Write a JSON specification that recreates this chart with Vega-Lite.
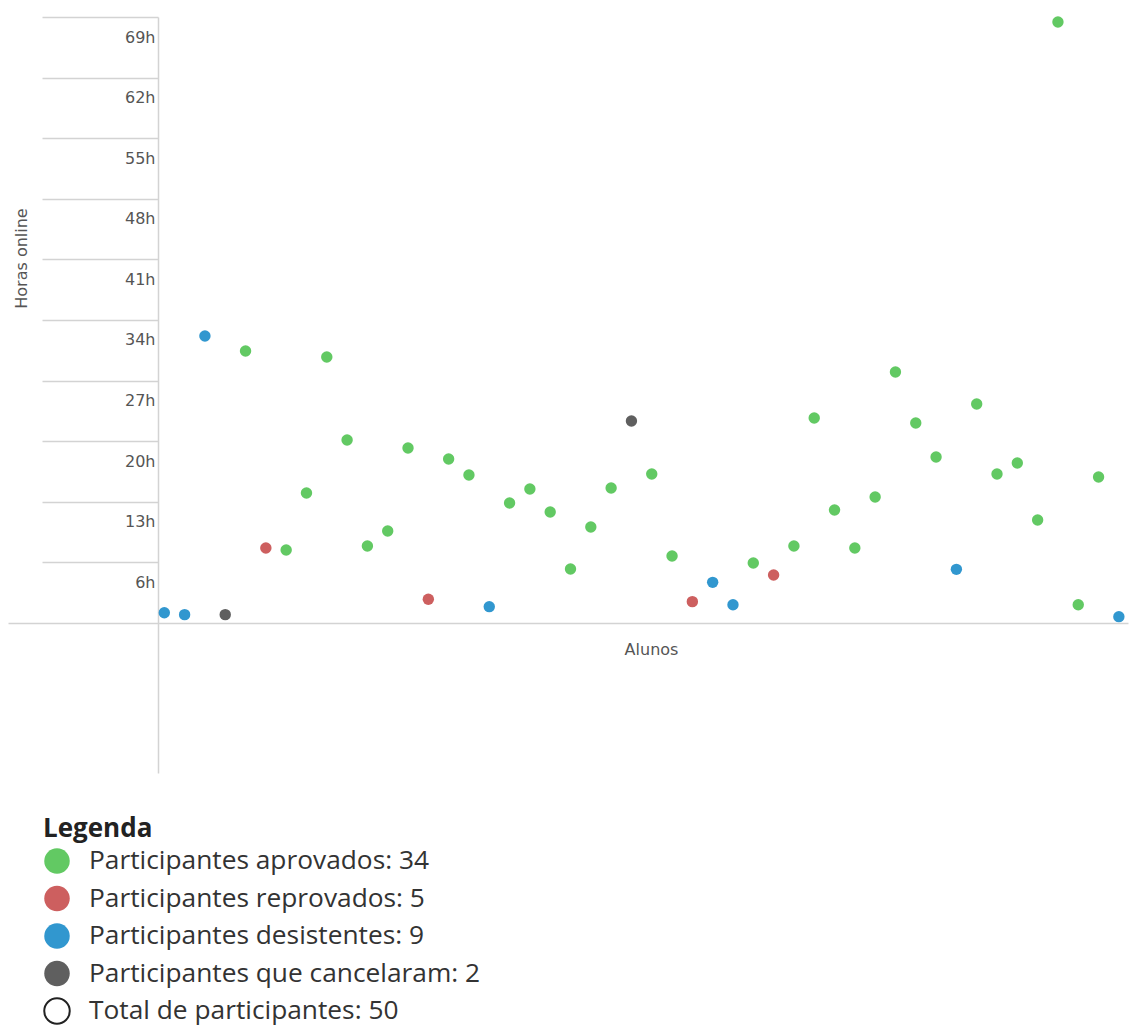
{
  "$schema": "https://vega.github.io/schema/vega-lite/v6.json",
  "width": 1120,
  "height": 756,
  "autosize": {"type": "none"},
  "padding": {"left": 8, "top": 17, "right": 1, "bottom": 255},
  "background": "white",
  "config": {"view": {"stroke": null}, "font": "DejaVu Sans"},
  "data": {
    "values": [
      {"aluno": 1, "horas": 1.17, "situacao": "Participantes desistentes: 9"},
      {"aluno": 2, "horas": 0.95, "situacao": "Participantes desistentes: 9"},
      {"aluno": 3, "horas": 32.68, "situacao": "Participantes desistentes: 9"},
      {"aluno": 4, "horas": 0.95, "situacao": "Participantes que cancelaram: 2"},
      {"aluno": 5, "horas": 30.97, "situacao": "Participantes aprovados: 34"},
      {"aluno": 6, "horas": 8.54, "situacao": "Participantes reprovados: 5"},
      {"aluno": 7, "horas": 8.31, "situacao": "Participantes aprovados: 34"},
      {"aluno": 8, "horas": 14.8, "situacao": "Participantes aprovados: 34"},
      {"aluno": 9, "horas": 30.29, "situacao": "Participantes aprovados: 34"},
      {"aluno": 10, "horas": 20.84, "situacao": "Participantes aprovados: 34"},
      {"aluno": 11, "horas": 8.77, "situacao": "Participantes aprovados: 34"},
      {"aluno": 12, "horas": 10.47, "situacao": "Participantes aprovados: 34"},
      {"aluno": 13, "horas": 19.92, "situacao": "Participantes aprovados: 34"},
      {"aluno": 14, "horas": 2.7, "situacao": "Participantes reprovados: 5"},
      {"aluno": 15, "horas": 18.67, "situacao": "Participantes aprovados: 34"},
      {"aluno": 16, "horas": 16.85, "situacao": "Participantes aprovados: 34"},
      {"aluno": 17, "horas": 1.86, "situacao": "Participantes desistentes: 9"},
      {"aluno": 18, "horas": 13.66, "situacao": "Participantes aprovados: 34"},
      {"aluno": 19, "horas": 15.26, "situacao": "Participantes aprovados: 34"},
      {"aluno": 20, "horas": 12.64, "situacao": "Participantes aprovados: 34"},
      {"aluno": 21, "horas": 6.15, "situacao": "Participantes aprovados: 34"},
      {"aluno": 22, "horas": 10.93, "situacao": "Participantes aprovados: 34"},
      {"aluno": 23, "horas": 15.37, "situacao": "Participantes aprovados: 34"},
      {"aluno": 24, "horas": 23.0, "situacao": "Participantes que cancelaram: 2"},
      {"aluno": 25, "horas": 16.96, "situacao": "Participantes aprovados: 34"},
      {"aluno": 26, "horas": 7.63, "situacao": "Participantes aprovados: 34"},
      {"aluno": 27, "horas": 2.43, "situacao": "Participantes reprovados: 5"},
      {"aluno": 28, "horas": 4.63, "situacao": "Participantes desistentes: 9"},
      {"aluno": 29, "horas": 2.08, "situacao": "Participantes desistentes: 9"},
      {"aluno": 30, "horas": 6.83, "situacao": "Participantes aprovados: 34"},
      {"aluno": 31, "horas": 5.47, "situacao": "Participantes reprovados: 5"},
      {"aluno": 32, "horas": 8.77, "situacao": "Participantes aprovados: 34"},
      {"aluno": 33, "horas": 23.34, "situacao": "Participantes aprovados: 34"},
      {"aluno": 34, "horas": 12.87, "situacao": "Participantes aprovados: 34"},
      {"aluno": 35, "horas": 8.54, "situacao": "Participantes aprovados: 34"},
      {"aluno": 36, "horas": 14.35, "situacao": "Participantes aprovados: 34"},
      {"aluno": 37, "horas": 28.58, "situacao": "Participantes aprovados: 34"},
      {"aluno": 38, "horas": 22.77, "situacao": "Participantes aprovados: 34"},
      {"aluno": 39, "horas": 18.9, "situacao": "Participantes aprovados: 34"},
      {"aluno": 40, "horas": 6.11, "situacao": "Participantes desistentes: 9"},
      {"aluno": 41, "horas": 24.93, "situacao": "Participantes aprovados: 34"},
      {"aluno": 42, "horas": 16.96, "situacao": "Participantes aprovados: 34"},
      {"aluno": 43, "horas": 18.22, "situacao": "Participantes aprovados: 34"},
      {"aluno": 44, "horas": 11.73, "situacao": "Participantes aprovados: 34"},
      {"aluno": 45, "horas": 68.43, "situacao": "Participantes aprovados: 34"},
      {"aluno": 46, "horas": 2.08, "situacao": "Participantes aprovados: 34"},
      {"aluno": 47, "horas": 16.62, "situacao": "Participantes aprovados: 34"},
      {"aluno": 48, "horas": 0.72, "situacao": "Participantes desistentes: 9"}
    ]
  },
  "mark": {"type": "point", "filled": true, "size": 130, "opacity": 1},
  "encoding": {
    "x": {
      "field": "aluno",
      "type": "quantitative",
      "scale": {"domain": [-6.696, 48.45], "nice": false, "zero": false},
      "axis": {
        "orient": "bottom",
        "offset": -150,
        "ticks": false,
        "labels": false,
        "grid": false,
        "domainColor": "#d3d3d3",
        "domainWidth": 1.5,
        "title": "Alunos",
        "titleFont": "DejaVu Sans",
        "titleFontSize": 16,
        "titleFontWeight": "normal",
        "titleColor": "#555555",
        "titleX": 643,
        "titleY": 31,
        "titleBaseline": "alphabetic",
        "titleAlign": "center"
      }
    },
    "y": {
      "field": "horas",
      "type": "quantitative",
      "scale": {"domain": [-17.08, 69], "nice": false, "zero": false},
      "axis": {
        "orient": "left",
        "offset": -150,
        "values": [6.9, 13.8, 20.7, 27.6, 34.5, 41.4, 48.3, 55.2, 62.1, 69],
        "labelExpr": "floor(datum.value) + 'h'",
        "tickSize": 116,
        "tickColor": "#d3d3d3",
        "tickWidth": 1.5,
        "domainColor": "#d3d3d3",
        "domainWidth": 1.5,
        "grid": false,
        "labelPadding": -113,
        "labelAlign": "right",
        "labelBaseline": "middle",
        "labelOffset": 20,
        "labelFont": "DejaVu Sans",
        "labelFontSize": 16,
        "labelColor": "#555555",
        "labelFlush": false,
        "labelOverlap": false,
        "labelBound": false,
        "title": "Horas online",
        "titleFont": "DejaVu Sans",
        "titleFontSize": 16,
        "titleFontWeight": "normal",
        "titleColor": "#555555",
        "titleAngle": -90,
        "titleX": -132,
        "titleY": 241,
        "titleBaseline": "alphabetic",
        "titleAlign": "center"
      }
    },
    "color": {
      "field": "situacao",
      "type": "nominal",
      "scale": {
        "domain": [
          "Participantes aprovados: 34",
          "Participantes reprovados: 5",
          "Participantes desistentes: 9",
          "Participantes que cancelaram: 2",
          "Total de participantes: 50"
        ],
        "range": ["#62c963", "#cd5f5f", "#3197cf", "#5f5f5f", "#ffffff"]
      },
      "legend": {
        "orient": "none",
        "legendX": 35,
        "legendY": 799,
        "padding": 0,
        "title": "Legenda",
        "titleFont": "Open Sans",
        "titleFontSize": 26,
        "titleFontWeight": "bold",
        "titleColor": "#222222",
        "titlePadding": 5,
        "labelFont": "Open Sans",
        "labelFontSize": 26.3,
        "labelColor": "#333333",
        "labelLimit": 0,
        "labelOffset": 18,
        "symbolType": "circle",
        "symbolSize": 650,
        "symbolOpacity": 1,
        "rowPadding": 3.5,
        "encode": {
          "symbols": {
            "update": {
              "stroke": {"signal": "datum.value === 'Total de participantes: 50' ? '#222222' : 'transparent'"},
              "strokeWidth": {"value": 2}
            }
          }
        }
      }
    }
  }
}
